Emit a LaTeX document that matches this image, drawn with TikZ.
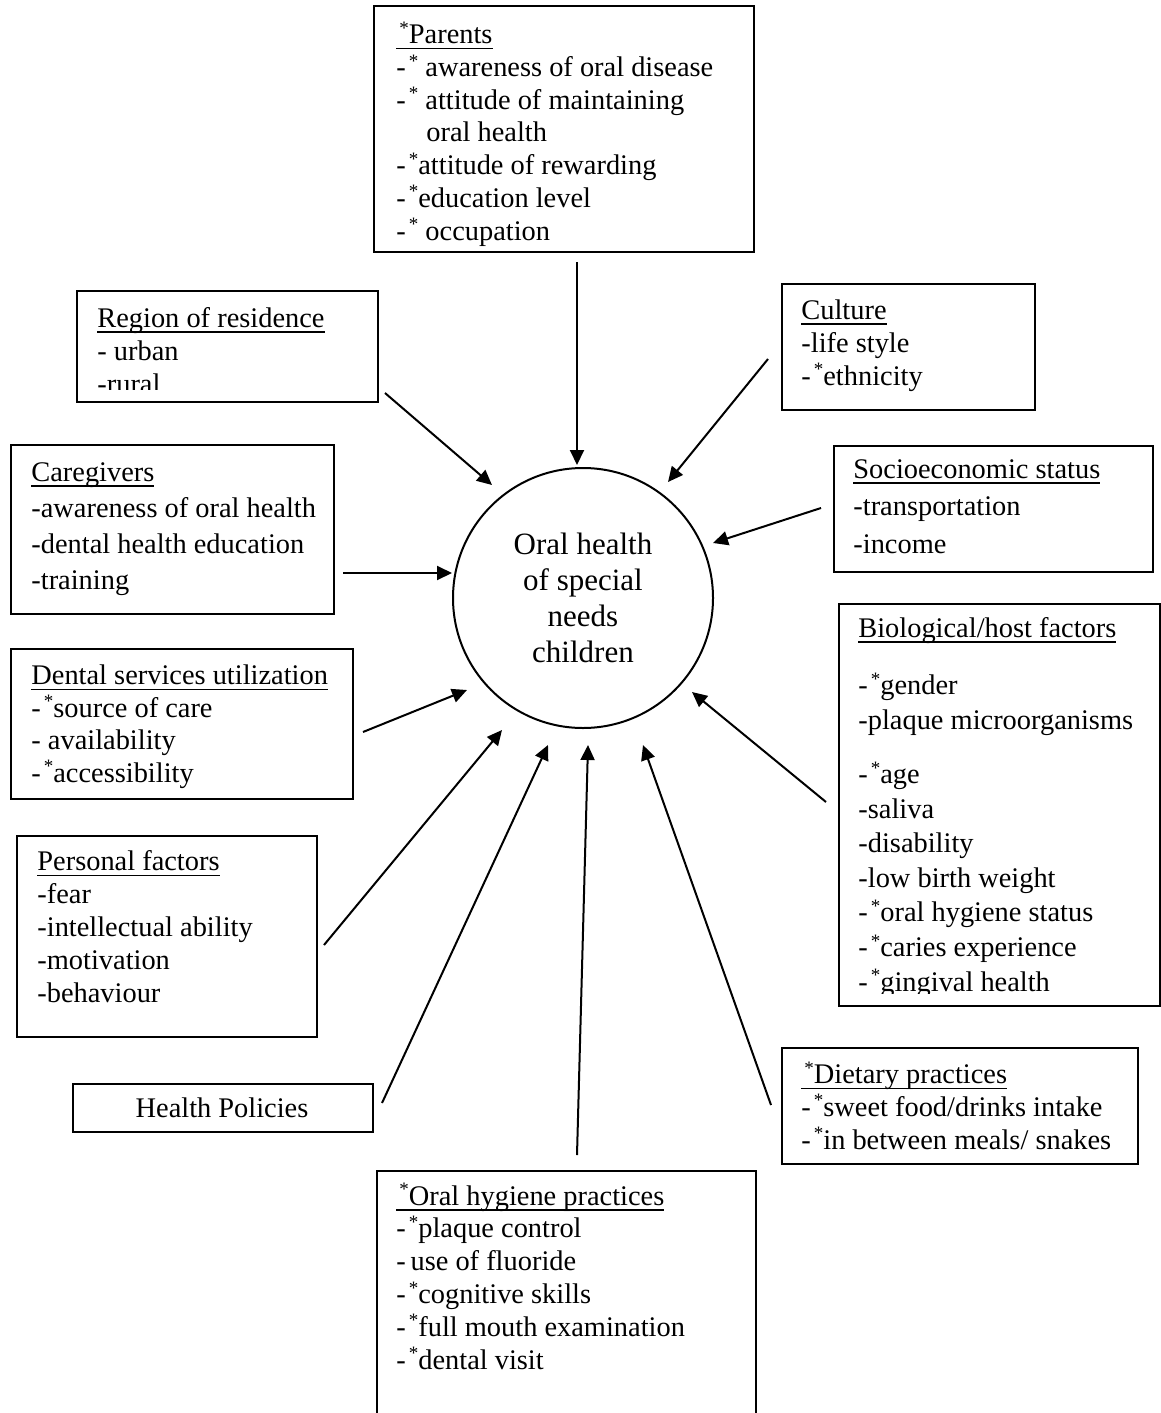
\documentclass[tikz,border=0pt]{standalone}
\usepackage{fontspec}
\setmainfont{Liberation Serif}
\usetikzlibrary{arrows.meta}

\newcommand{\astr}{\hspace{1.5pt}\raisebox{4.7pt}{\fontsize{9.5pt}{9.5pt}\selectfont *}}
\newcommand{\uln}[1]{\setbox0\hbox{#1}\rlap{\rule[-2.8pt]{\wd0}{0.7pt}}\box0}

\tikzset{
  factor/.style={draw, line width=1pt, anchor=north west, inner sep=0pt},
  % lists are placed by the baseline of their last line
  itemlist/.style={anchor=base west, align=left, inner sep=0pt,
    font=\fontsize{14.2pt}{#1}\selectfont},
  itemlist/.default=16.4pt,
  influence/.style={-{Triangle[length=7.5pt,width=7pt]}, line width=1pt},
}

\begin{document}
\begin{tikzpicture}[x=0.5pt, y=-0.5pt]
  \useasboundingbox (0,0) rectangle (1161,1413);

  % -- Centre --
  \node[draw, circle, line width=1pt, minimum size=130pt, inner sep=0pt,
        align=center, font=\fontsize{15.5pt}{18pt}\selectfont] (hub) at (583,598)
    {Oral health\\of special\\needs\\children};

  % -- Parents --
  \node[factor, minimum width=190pt, minimum height=123pt] (parents) at (373,5) {};
  \node[itemlist=16.35pt] (parentsList) at (396,240)
    {\uln{\astr Parents}\\
     -\astr\ awareness of oral disease\\
     -\astr\ attitude of maintaining\\
     \hspace*{15pt}oral health\\
     -\astr attitude of rewarding\\
     -\astr education level\\
     -\astr\ occupation};

  % -- Region of residence (last line cut by the box) --
  \node[factor, minimum width=150.5pt, minimum height=55.5pt] (region) at (76,290) {};
  \begin{scope}
    \clip (76,290) rectangle (377,389);
    \node[itemlist=16.5pt] (regionList) at (97,393)
      {\uln{Region of residence}\\- urban\\-rural};
  \end{scope}

  % -- Culture --
  \node[factor, minimum width=126.5pt, minimum height=63pt] (culture) at (781,283) {};
  \node[itemlist=16.5pt] (cultureList) at (801,385)
    {\uln{Culture}\\-life style\\-\astr ethnicity};

  % -- Caregivers --
  \node[factor, minimum width=161.5pt, minimum height=84.5pt] (caregivers) at (10,444) {};
  \node[itemlist=18pt] (caregiversList) at (31,589)
    {\uln{Caregivers}\\-awareness of oral health\\-dental health education\\-training};

  % -- Socioeconomic status --
  \node[factor, minimum width=159.5pt, minimum height=63pt] (socio) at (833,445) {};
  \node[itemlist=18.75pt] (socioList) at (853,553)
    {\uln{Socioeconomic status}\\-transportation\\-income};

  % -- Dental services utilization --
  \node[factor, minimum width=171pt, minimum height=75pt] (dental) at (10,648) {};
  \node[itemlist=16.2pt] (dentalList) at (31,782)
    {\uln{Dental services utilization}\\
     -\astr source of care\\
     - availability\\
     -\astr accessibility};

  % -- Biological/host factors (last line cut by the box) --
  \node[factor, minimum width=160.5pt, minimum height=201pt] (bio) at (838,603) {};
  \begin{scope}
    \clip (838,603) rectangle (1159,993);
    \node[itemlist=17.3pt] (bioList) at (858,991)
      {\uln{Biological/host factors}\\[11.5pt]
       -\astr gender\\
       -plaque microorganisms\\[9.7pt]
       -\astr age\\
       -saliva\\
       -disability\\
       -low birth weight\\
       -\astr oral hygiene status\\
       -\astr caries experience\\
       -\astr gingival health};
  \end{scope}

  % -- Personal factors --
  \node[factor, minimum width=150pt, minimum height=100.5pt] (personal) at (16,835) {};
  \node[itemlist=16.4pt] (personalList) at (37,1002)
    {\uln{Personal factors}\\-fear\\-intellectual ability\\-motivation\\-behaviour};

  % -- Health Policies --
  \node[factor, minimum width=150pt, minimum height=24pt] (policies) at (72,1083) {};
  \node[anchor=base, inner sep=0pt, font=\fontsize{14.2pt}{16.4pt}\selectfont]
    (policiesText) at (222,1117) {Health Policies};

  % -- Dietary practices --
  \node[factor, minimum width=178pt, minimum height=58pt] (dietary) at (781,1047) {};
  \node[itemlist=16.4pt] (dietaryList) at (801,1149)
    {\uln{\astr Dietary practices}\\
     -\astr sweet food/drinks intake\\
     -\astr in between meals/ snakes};

  % -- Oral hygiene practices (runs off the page) --
  \node[factor, minimum width=189.5pt, minimum height=130pt] (hygiene) at (376,1170) {};
  \node[itemlist=16.4pt] (hygieneList) at (396,1369)
    {\uln{\astr Oral hygiene practices}\\
     -\astr plaque control\\
     -\,use of fluoride\\
     -\astr cognitive skills\\
     -\astr full mouth examination\\
     -\astr dental visit};

  % -- Arrows into the centre --
  \coordinate (parentsTail) at (577,262);    \coordinate (parentsTip) at (577,465);
  \coordinate (regionTail) at (385,393);     \coordinate (regionTip) at (492,485);
  \coordinate (cultureTail) at (768,359);    \coordinate (cultureTip) at (668,482);
  \coordinate (socioTail) at (821,508);      \coordinate (socioTip) at (713,543);
  \coordinate (caregiversTail) at (343,573); \coordinate (caregiversTip) at (452,573);
  \coordinate (dentalTail) at (363,732);     \coordinate (dentalTip) at (467,690);
  \coordinate (bioTail) at (826,802);        \coordinate (bioTip) at (692,692);
  \coordinate (personalTail) at (324,945);   \coordinate (personalTip) at (502,730);
  \coordinate (policiesTail) at (382,1103);  \coordinate (policiesTip) at (548,745);
  \coordinate (hygieneTail) at (577,1155);   \coordinate (hygieneTip) at (588,745);
  \coordinate (dietaryTail) at (771,1105);   \coordinate (dietaryTip) at (643,745);

  \draw[influence] (parentsTail) -- (parentsTip);
  \draw[influence] (regionTail) -- (regionTip);
  \draw[influence] (cultureTail) -- (cultureTip);
  \draw[influence] (socioTail) -- (socioTip);
  \draw[influence] (caregiversTail) -- (caregiversTip);
  \draw[influence] (dentalTail) -- (dentalTip);
  \draw[influence] (bioTail) -- (bioTip);
  \draw[influence] (personalTail) -- (personalTip);
  \draw[influence] (policiesTail) -- (policiesTip);
  \draw[influence] (hygieneTail) -- (hygieneTip);
  \draw[influence] (dietaryTail) -- (dietaryTip);

\end{tikzpicture}
\end{document}
